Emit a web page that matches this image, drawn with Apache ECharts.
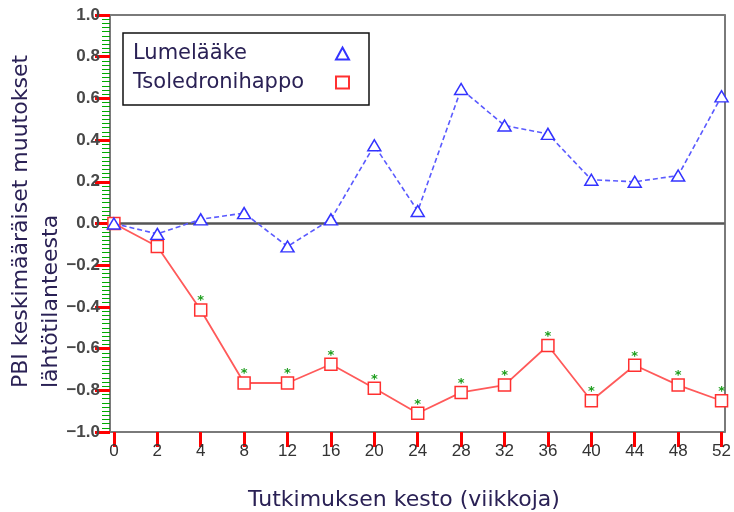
<!DOCTYPE html>
<html>
<head>
<meta charset="utf-8">
<script src="https://cdn.jsdelivr.net/npm/echarts@6/dist/echarts.min.js"></script>
<style>
html,body{margin:0;padding:0;background:#fff;}
#chart{width:734px;height:512px;}
</style>
</head>
<body>
<div id="chart"></div>
<script>
// ---- data ----
const weeks = ['0','2','4','8','12','16','20','24','28','32','36','40','44','48','52'];
const placebo = [0.0, -0.05, 0.02, 0.05, -0.11, 0.02, 0.375, 0.06, 0.645, 0.47, 0.43, 0.21, 0.20, 0.23, 0.61];
const zoledronic = [0.0, -0.11, -0.415, -0.765, -0.765, -0.675, -0.79, -0.91, -0.81, -0.775, -0.585, -0.85, -0.68, -0.775, -0.85];
const significant = [false, false, true, true, true, true, true, true, true, true, true, true, true, true, true];
const seriesNames = ['Lumelääke', 'Tsoledronihappo'];
const xTitle = 'Tutkimuksen kesto (viikkoja)';
const yTitle = 'PBI keskimääräiset muutokset\nlähtötilanteesta';

const textColor = '#2a2155';
const frameColor = '#7a7a7a';
const chart = echarts.init(document.getElementById('chart'));
const idx = weeks.map((w, i) => i);

const frameAxis = {
  axisLine: {show: true, onZero: false, lineStyle: {color: frameColor, width: 2}},
  axisTick: {show: false}, axisLabel: {show: false}, splitLine: {show: false}
};

const option = {
  animation: false,
  grid: {left: 110, right: 8, top: 15, bottom: 80},
  xAxis: [{
    type: 'value', min: -0.09, max: 14.07,
    axisLine: {show: true, onZero: false, lineStyle: {color: frameColor, width: 2}},
    axisTick: {show: true, length: 15, customValues: idx, lineStyle: {color: '#f00', width: 3}},
    axisLabel: {customValues: idx, formatter: v => weeks[Math.round(v)], margin: 11,
      fontFamily: 'Liberation Sans', fontSize: 17, color: '#333'},
    splitLine: {show: false}
  }, Object.assign({type: 'value', position: 'top', min: -0.09, max: 14.07}, frameAxis)],
  yAxis: [{
    type: 'value', min: -1, max: 1, interval: 0.2,
    axisLine: {show: true, onZero: false, lineStyle: {color: frameColor, width: 2}},
    axisTick: {show: true, length: 15, lineStyle: {color: '#f00', width: 3}},
    minorTick: {show: true, splitNumber: 10, length: 8, lineStyle: {color: '#0a0', width: 1}},
    axisLabel: {
      margin: 10, fontFamily: 'Liberation Sans', fontSize: 17, fontWeight: 'bold', color: '#484848',
      formatter: v => (v < -1e-9 ? '−' : '') + Math.abs(v).toFixed(1)
    },
    splitLine: {show: false}
  }, Object.assign({type: 'value', position: 'right', min: -1, max: 1, interval: 0.2}, frameAxis)],
  legend: {
    left: 123, top: 33, orient: 'vertical', align: 'right',
    padding: [10, 19, 12, 10], itemGap: 8, itemWidth: 13, itemHeight: 12,
    borderColor: '#111', borderWidth: 1.5, backgroundColor: '#fff',
    selectedMode: false,
    formatter: n => '{a|' + n + '}',
    textStyle: {rich: {a: {width: 198, align: 'left', fontSize: 21, lineHeight: 22, fontFamily: 'DejaVu Sans', color: textColor}}},
    data: [{name: seriesNames[0], icon: 'triangle'}, {name: seriesNames[1], icon: 'rect'}]
  },
  graphic: [
    {type: 'text', x: 404, y: 500, style: {text: xTitle, fontFamily: 'DejaVu Sans', fontSize: 22,
      fill: textColor, align: 'center', verticalAlign: 'middle'}},
    {type: 'text', x: 6, y: 388, rotation: Math.PI / 2, style: {text: yTitle, fontFamily: 'DejaVu Sans', fontSize: 22,
      lineHeight: 30, fill: textColor, align: 'left', verticalAlign: 'top'}}
  ],
  series: [
    {
      name: seriesNames[0], type: 'line', z: 3, xAxisIndex: 0, yAxisIndex: 0,
      data: placebo.map((v, i) => [i, v]),
      symbol: 'triangle', symbolSize: [13, 11],
      itemStyle: {color: '#fff', borderColor: '#3333ff', borderWidth: 1.5},
      lineStyle: {color: '#5a5aff', width: 1.6, type: [5, 3]},
      markLine: {silent: true, symbol: 'none', z: 1, label: {show: false},
        lineStyle: {color: '#555', width: 2.5, type: 'solid'}, data: [{yAxis: 0}]},
      emphasis: {disabled: true}
    },
    {
      name: seriesNames[1], type: 'line', z: 2, xAxisIndex: 0, yAxisIndex: 0,
      data: zoledronic.map((v, i) => ({
        value: [i, v],
        label: {show: significant[i], formatter: '*', position: 'inside', offset: [0, -9],
          color: '#1e9e1e', fontSize: 13, fontWeight: 'bold', fontFamily: 'DejaVu Sans'}
      })),
      symbol: 'rect', symbolSize: 12,
      itemStyle: {color: '#fff', borderColor: '#ff3030', borderWidth: 1.5},
      lineStyle: {color: '#ff5a5a', width: 1.8, type: 'solid'},
      emphasis: {disabled: true}
    }
  ]
};
chart.setOption(option);
</script>
</body>
</html>
